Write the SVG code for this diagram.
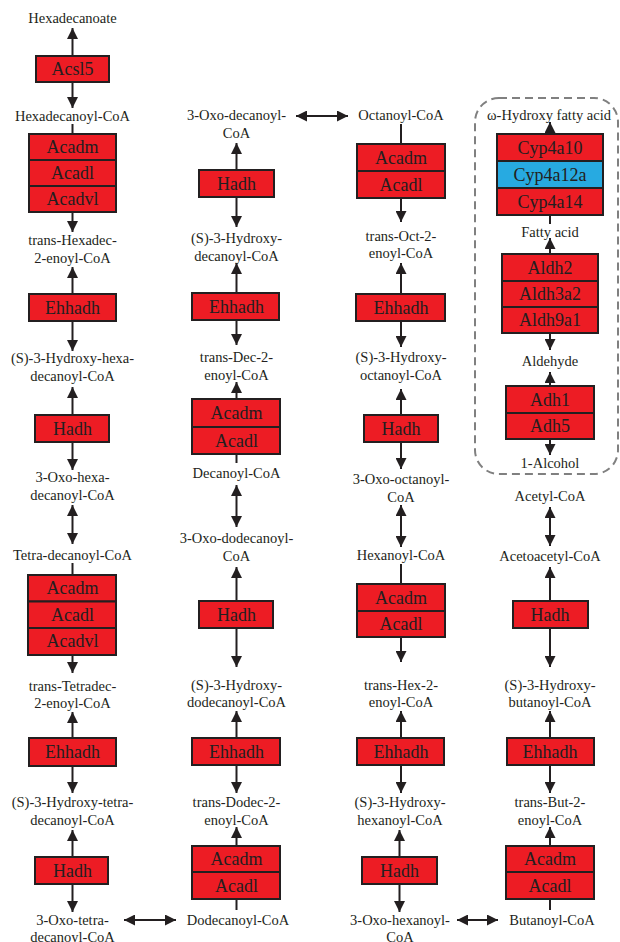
<svg xmlns="http://www.w3.org/2000/svg" width="620" height="942" viewBox="0 0 620 942">
<style>
.t{font-family:"Liberation Serif","Times New Roman",serif;font-size:14.5px;fill:#231F20;text-anchor:middle}
.b{font-family:"Liberation Serif","Times New Roman",serif;font-size:18px;fill:#231F20;text-anchor:middle}
.r{fill:#ED1C24;stroke:#231F20;stroke-width:2}
.u{fill:#27AAE1;stroke:#231F20;stroke-width:2}
.c line{stroke:#231F20;stroke-width:2}
.a{marker-end:url(#ah)}
.d{marker-start:url(#ah);marker-end:url(#ah)}
</style>
<defs>
<marker id="ah" viewBox="0 0 10 10" refX="10" refY="5" markerWidth="11" markerHeight="11" markerUnits="userSpaceOnUse" orient="auto-start-reverse">
<path d="M0,0 L10,5 L0,10 z" fill="#231F20"/>
</marker>
</defs>
<rect width="620" height="942" fill="#fff"/>
<rect id="group-box" x="475" y="98" width="143" height="376" rx="24" fill="none" stroke="#808080" stroke-width="2" stroke-dasharray="8 5"/>

<g id="connectors" class="c">
<!-- column 1 -->
<line class="a" x1="72.5" y1="56" x2="72.5" y2="28"/>
<line class="a" x1="72.5" y1="82" x2="72.5" y2="108"/>
<line x1="72.5" y1="124" x2="72.5" y2="134"/>
<line class="a" x1="72.5" y1="212" x2="72.5" y2="232"/>
<line class="a" x1="72.5" y1="294" x2="72.5" y2="267"/>
<line class="a" x1="72.5" y1="321" x2="72.5" y2="351"/>
<line class="a" x1="72.5" y1="415" x2="72.5" y2="387"/>
<line class="a" x1="72.5" y1="442" x2="72.5" y2="470"/>
<line class="d" x1="72.5" y1="505" x2="72.5" y2="544"/>
<line x1="72.5" y1="563" x2="72.5" y2="575"/>
<line class="a" x1="72.5" y1="655" x2="72.5" y2="673"/>
<line class="a" x1="72.5" y1="738" x2="72.5" y2="712"/>
<line class="a" x1="72.5" y1="766" x2="72.5" y2="793"/>
<line class="a" x1="72.5" y1="857" x2="72.5" y2="830"/>
<line class="a" x1="72.5" y1="884" x2="72.5" y2="912"/>
<line class="d" x1="124" y1="920" x2="176" y2="920"/>
<!-- column 2 -->
<line x1="236.5" y1="899" x2="236.5" y2="910"/>
<line class="a" x1="236.5" y1="846" x2="236.5" y2="827"/>
<line class="a" x1="236.5" y1="765" x2="236.5" y2="793"/>
<line class="a" x1="236.5" y1="738" x2="236.5" y2="711"/>
<line class="a" x1="236.5" y1="628" x2="236.5" y2="667"/>
<line class="a" x1="236.5" y1="601" x2="236.5" y2="567"/>
<line class="d" x1="236.5" y1="485" x2="236.5" y2="527"/>
<line x1="236.5" y1="454" x2="236.5" y2="463"/>
<line class="a" x1="236.5" y1="399" x2="236.5" y2="382"/>
<line class="a" x1="236.5" y1="320" x2="236.5" y2="345"/>
<line class="a" x1="236.5" y1="293" x2="236.5" y2="263"/>
<line class="a" x1="236.5" y1="197" x2="236.5" y2="227"/>
<line class="a" x1="236.5" y1="170" x2="236.5" y2="143"/>
<line class="d" x1="296" y1="116" x2="348" y2="116"/>
<!-- column 3 -->
<line x1="401" y1="124" x2="401" y2="144"/>
<line class="a" x1="401" y1="198" x2="401" y2="222"/>
<line class="a" x1="401" y1="294" x2="401" y2="263"/>
<line class="a" x1="401" y1="321" x2="401" y2="347"/>
<line class="a" x1="401" y1="415" x2="401" y2="389"/>
<line class="a" x1="401" y1="442" x2="401" y2="469"/>
<line class="d" x1="401" y1="505" x2="401" y2="547"/>
<line x1="401" y1="564" x2="401" y2="584"/>
<line class="a" x1="401" y1="637" x2="401" y2="662"/>
<line class="a" x1="401" y1="738" x2="401" y2="711"/>
<line class="a" x1="401" y1="765" x2="401" y2="793"/>
<line class="a" x1="399.5" y1="857" x2="399.5" y2="830"/>
<line class="a" x1="399.5" y1="884" x2="399.5" y2="912"/>
<line class="d" x1="457" y1="920" x2="498" y2="920"/>
<!-- column 4 -->
<line x1="550" y1="899" x2="550" y2="910"/>
<line class="a" x1="550" y1="846" x2="550" y2="827"/>
<line class="a" x1="550" y1="765" x2="550" y2="793"/>
<line class="a" x1="550" y1="738" x2="550" y2="711"/>
<line class="a" x1="550" y1="628" x2="550" y2="667"/>
<line class="a" x1="550" y1="601" x2="550" y2="567"/>
<line class="d" x1="550" y1="507" x2="550" y2="546"/>
<line class="a" x1="550" y1="134" x2="550" y2="122"/>
<line x1="550" y1="215" x2="550" y2="224"/>
<line class="a" x1="550" y1="254" x2="550" y2="238"/>
<line class="a" x1="550" y1="333" x2="550" y2="350"/>
<line class="a" x1="550" y1="386" x2="550" y2="372"/>
<line class="a" x1="550" y1="439" x2="550" y2="455"/>
</g>

<!-- column 1 nodes -->
<g id="hexadecanoate"><text class="t" x="72.5" y="23">Hexadecanoate</text></g>
<g id="acsl5"><rect class="r" x="36" y="56" width="73" height="26"/><text class="b" x="72.5" y="75">Acsl5</text></g>
<g id="hexadecanoyl-coa"><text class="t" x="72.5" y="121">Hexadecanoyl-CoA</text></g>
<g id="acad-1">
<rect class="r" x="29" y="134" width="87" height="26"/><text class="b" x="72.5" y="153">Acadm</text>
<rect class="r" x="29" y="160" width="87" height="26"/><text class="b" x="72.5" y="179">Acadl</text>
<rect class="r" x="29" y="186" width="87" height="26"/><text class="b" x="72.5" y="205">Acadvl</text>
</g>
<g id="trans-hexadec"><text class="t" x="72.5" y="245">trans-Hexadec-</text><text class="t" x="72.5" y="263">2-enoyl-CoA</text></g>
<g id="ehhadh-1"><rect class="r" x="29" y="294" width="87" height="27"/><text class="b" x="72.5" y="314">Ehhadh</text></g>
<g id="hydroxy-hexadecanoyl"><text class="t" x="72.5" y="363">(S)-3-Hydroxy-hexa-</text><text class="t" x="72.5" y="381">decanoyl-CoA</text></g>
<g id="hadh-1"><rect class="r" x="35" y="415" width="74" height="27"/><text class="b" x="72.5" y="435">Hadh</text></g>
<g id="oxo-hexadecanoyl"><text class="t" x="72.5" y="482">3-Oxo-hexa-</text><text class="t" x="72.5" y="500">decanoyl-CoA</text></g>
<g id="tetradecanoyl-coa"><text class="t" x="72.5" y="560">Tetra-decanoyl-CoA</text></g>
<g id="acad-2">
<rect class="r" x="28" y="575" width="88" height="26.5"/><text class="b" x="72.5" y="594">Acadm</text>
<rect class="r" x="28" y="601.5" width="88" height="26.5"/><text class="b" x="72.5" y="621">Acadl</text>
<rect class="r" x="28" y="628" width="88" height="27"/><text class="b" x="72.5" y="647">Acadvl</text>
</g>
<g id="trans-tetradec"><text class="t" x="72.5" y="691">trans-Tetradec-</text><text class="t" x="72.5" y="708">2-enoyl-CoA</text></g>
<g id="ehhadh-2"><rect class="r" x="29" y="738" width="87" height="28"/><text class="b" x="72.5" y="758">Ehhadh</text></g>
<g id="hydroxy-tetradecanoyl"><text class="t" x="72.5" y="807">(S)-3-Hydroxy-tetra-</text><text class="t" x="72.5" y="825">decanoyl-CoA</text></g>
<g id="hadh-2"><rect class="r" x="35" y="857" width="73" height="27"/><text class="b" x="72.5" y="877">Hadh</text></g>
<g id="oxo-tetradecanoyl"><text class="t" x="72.5" y="925">3-Oxo-tetra-</text><text class="t" x="72.5" y="942">decanoyl-CoA</text></g>

<!-- column 2 nodes -->
<g id="dodecanoyl-coa"><text class="t" x="238" y="925">Dodecanoyl-CoA</text></g>
<g id="acad-3">
<rect class="r" x="192" y="846" width="88" height="26"/><text class="b" x="236.5" y="865">Acadm</text>
<rect class="r" x="192" y="872" width="88" height="27"/><text class="b" x="236.5" y="892">Acadl</text>
</g>
<g id="trans-dodec"><text class="t" x="236.5" y="807">trans-Dodec-2-</text><text class="t" x="236.5" y="825">enoyl-CoA</text></g>
<g id="ehhadh-3"><rect class="r" x="192" y="738" width="88" height="27"/><text class="b" x="236.5" y="758">Ehhadh</text></g>
<g id="hydroxy-dodecanoyl"><text class="t" x="236.5" y="690">(S)-3-Hydroxy-</text><text class="t" x="236.5" y="707">dodecanoyl-CoA</text></g>
<g id="hadh-3"><rect class="r" x="199" y="601" width="74" height="27"/><text class="b" x="236.5" y="621">Hadh</text></g>
<g id="oxo-dodecanoyl"><text class="t" x="236.5" y="543">3-Oxo-dodecanoyl-</text><text class="t" x="236.5" y="561">CoA</text></g>
<g id="decanoyl-coa"><text class="t" x="236.5" y="478">Decanoyl-CoA</text></g>
<g id="acad-4">
<rect class="r" x="192" y="399" width="88" height="28"/><text class="b" x="236.5" y="419">Acadm</text>
<rect class="r" x="192" y="427" width="88" height="27"/><text class="b" x="236.5" y="447">Acadl</text>
</g>
<g id="trans-dec"><text class="t" x="236.5" y="362">trans-Dec-2-</text><text class="t" x="236.5" y="380">enoyl-CoA</text></g>
<g id="ehhadh-4"><rect class="r" x="192" y="293" width="87" height="27"/><text class="b" x="236.5" y="313">Ehhadh</text></g>
<g id="hydroxy-decanoyl"><text class="t" x="236.5" y="243">(S)-3-Hydroxy-</text><text class="t" x="236.5" y="261">decanoyl-CoA</text></g>
<g id="hadh-4"><rect class="r" x="199" y="170" width="75" height="27"/><text class="b" x="236.5" y="190">Hadh</text></g>
<g id="oxo-decanoyl"><text class="t" x="236.5" y="120">3-Oxo-decanoyl-</text><text class="t" x="236.5" y="138">CoA</text></g>

<!-- column 3 nodes -->
<g id="octanoyl-coa"><text class="t" x="401" y="120">Octanoyl-CoA</text></g>
<g id="acad-5">
<rect class="r" x="357" y="144" width="88" height="27"/><text class="b" x="401" y="164">Acadm</text>
<rect class="r" x="357" y="171" width="88" height="27"/><text class="b" x="401" y="191">Acadl</text>
</g>
<g id="trans-oct"><text class="t" x="401" y="241">trans-Oct-2-</text><text class="t" x="401" y="258">enoyl-CoA</text></g>
<g id="ehhadh-5"><rect class="r" x="356" y="294" width="89" height="27"/><text class="b" x="401" y="314">Ehhadh</text></g>
<g id="hydroxy-octanoyl"><text class="t" x="401" y="362">(S)-3-Hydroxy-</text><text class="t" x="401" y="380">octanoyl-CoA</text></g>
<g id="hadh-5"><rect class="r" x="364" y="415" width="74" height="27"/><text class="b" x="401" y="435">Hadh</text></g>
<g id="oxo-octanoyl"><text class="t" x="401" y="484">3-Oxo-octanoyl-</text><text class="t" x="401" y="502">CoA</text></g>
<g id="hexanoyl-coa"><text class="t" x="401" y="560">Hexanoyl-CoA</text></g>
<g id="acad-6">
<rect class="r" x="357" y="584" width="88" height="27"/><text class="b" x="401" y="604">Acadm</text>
<rect class="r" x="357" y="611" width="88" height="26"/><text class="b" x="401" y="630">Acadl</text>
</g>
<g id="trans-hex"><text class="t" x="401" y="690">trans-Hex-2-</text><text class="t" x="401" y="707">enoyl-CoA</text></g>
<g id="ehhadh-6"><rect class="r" x="357" y="738" width="87" height="27"/><text class="b" x="401" y="758">Ehhadh</text></g>
<g id="hydroxy-hexanoyl"><text class="t" x="400" y="807">(S)-3-Hydroxy-</text><text class="t" x="400" y="825">hexanoyl-CoA</text></g>
<g id="hadh-6"><rect class="r" x="362" y="857" width="75" height="27"/><text class="b" x="399.5" y="877">Hadh</text></g>
<g id="oxo-hexanoyl"><text class="t" x="400" y="925">3-Oxo-hexanoyl-</text><text class="t" x="400" y="942">CoA</text></g>

<!-- column 4 nodes -->
<g id="butanoyl-coa"><text class="t" x="552" y="925">Butanoyl-CoA</text></g>
<g id="acad-7">
<rect class="r" x="506" y="846" width="88" height="26"/><text class="b" x="550" y="865">Acadm</text>
<rect class="r" x="506" y="872" width="88" height="27"/><text class="b" x="550" y="892">Acadl</text>
</g>
<g id="trans-but"><text class="t" x="550" y="807">trans-But-2-</text><text class="t" x="550" y="825">enoyl-CoA</text></g>
<g id="ehhadh-7"><rect class="r" x="507" y="738" width="87" height="27"/><text class="b" x="550" y="758">Ehhadh</text></g>
<g id="hydroxy-butanoyl"><text class="t" x="550" y="690">(S)-3-Hydroxy-</text><text class="t" x="550" y="707">butanoyl-CoA</text></g>
<g id="hadh-7"><rect class="r" x="513" y="601" width="75" height="27"/><text class="b" x="550" y="621">Hadh</text></g>
<g id="acetoacetyl-coa"><text class="t" x="550" y="561">Acetoacetyl-CoA</text></g>
<g id="acetyl-coa"><text class="t" x="550" y="501">Acetyl-CoA</text></g>
<g id="omega-hydroxy"><text class="t" x="549" y="120">ω-Hydroxy fatty acid</text></g>
<g id="cyp4a">
<rect class="r" x="497" y="134" width="106" height="27"/><text class="b" x="550" y="154">Cyp4a10</text>
<rect class="u" x="497" y="161" width="106" height="27"/><text class="b" x="550" y="181">Cyp4a12a</text>
<rect class="r" x="497" y="188" width="106" height="27"/><text class="b" x="550" y="208">Cyp4a14</text>
</g>
<g id="fatty-acid"><text class="t" x="550" y="237">Fatty acid</text></g>
<g id="aldh">
<rect class="r" x="502" y="254" width="96" height="27"/><text class="b" x="550" y="274">Aldh2</text>
<rect class="r" x="502" y="281" width="96" height="26"/><text class="b" x="550" y="300">Aldh3a2</text>
<rect class="r" x="502" y="307" width="96" height="26"/><text class="b" x="550" y="326">Aldh9a1</text>
</g>
<g id="aldehyde"><text class="t" x="550" y="366">Aldehyde</text></g>
<g id="adh">
<rect class="r" x="506" y="386" width="88" height="27"/><text class="b" x="550" y="406">Adh1</text>
<rect class="r" x="506" y="413" width="88" height="26"/><text class="b" x="550" y="432">Adh5</text>
</g>
<g id="alcohol"><text class="t" x="550" y="468">1-Alcohol</text></g>
</svg>
